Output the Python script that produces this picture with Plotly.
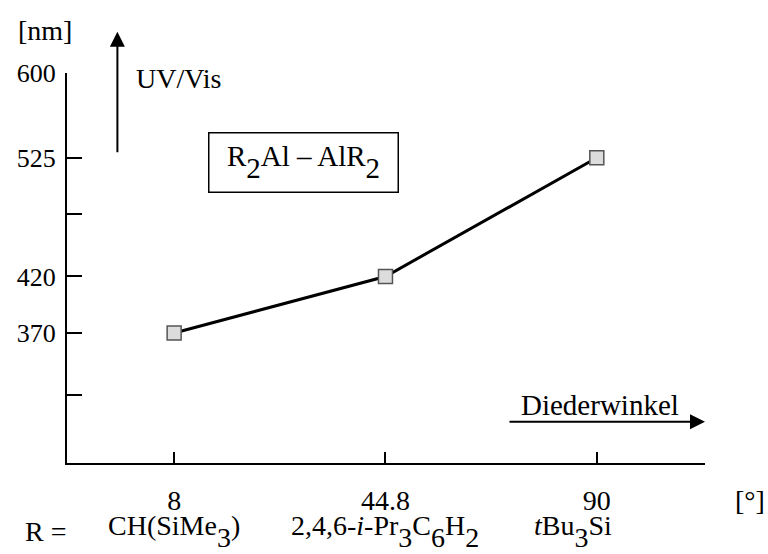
import plotly.graph_objects as go

# Dihedral angle (degrees) and UV/Vis absorption maximum (nm) for R2Al–AlR2
angles = ["8", "44.8", "90"]
wavelength_nm = [370, 420, 525]
y_tick_vals = [600, 525, 475, 420, 370, 315]
y_tick_text = ["600", "525", "", "420", "370", ""]

FONT = "Liberation Serif"


def sub(s):
    # full-size, lowered subscript as used in chemical formulae
    return f"<span style='baseline-shift:-0.42em'>{s}</span>"


substituents = [
    f"CH(SiMe{sub('3')})",
    f"2,4,6-<i>i</i>-Pr{sub('3')}C{sub('6')}H{sub('2')}",
    f"<i>t</i>Bu{sub('3')}Si",
]
formula = f"R{sub('2')}Al – AlR{sub('2')}"

pos = list(range(len(angles)))
row_xshift = [0, 0, -24]

fig = go.Figure()
fig.add_trace(go.Scatter(
    x=pos, y=wavelength_nm, mode="lines+markers",
    line=dict(color="black", width=3),
    marker=dict(symbol="square", size=14, color="#dcdcdc",
                line=dict(color="#555555", width=1.5)),
    showlegend=False, cliponaxis=False,
))

fig.update_layout(
    width=768, height=554,
    margin=dict(l=67, r=63, t=73, b=91),
    paper_bgcolor="white", plot_bgcolor="white",
    font=dict(family=FONT, size=26, color="black"),
    xaxis=dict(
        range=[-0.507, 2.512], tickmode="array",
        tickvals=pos + [2.512], ticktext=angles + [""],
        ticks="inside", ticklen=11, tickwidth=1.5, tickcolor="black",
        showline=True, linecolor="black", linewidth=2,
        showgrid=False, zeroline=False, ticklabelstandoff=11,
        tickfont=dict(family=FONT, size=28, color="black"),
    ),
    yaxis=dict(
        range=[255, 600], tickmode="array",
        tickvals=y_tick_vals, ticktext=y_tick_text,
        ticks="inside", ticklen=15, tickwidth=1.5, tickcolor="black",
        showline=True, linecolor="black", linewidth=2,
        showgrid=False, zeroline=False, ticklabelstandoff=4,
        tickfont=dict(family=FONT, size=26, color="black"),
    ),
)


def label(text, x, y, size=28, xref="paper", **kw):
    return dict(text=text, x=x, y=y, xref=xref, yref="paper",
                xanchor="center", yanchor="middle", showarrow=False,
                font=dict(family=FONT, size=size, color="black"), **kw)


def arrow(x, y, ax, ay):
    return dict(text="", x=x, y=y, xref="paper", yref="paper",
                ax=ax, ay=ay, showarrow=True, arrowhead=2, arrowsize=1.5,
                arrowwidth=2, arrowcolor="black")


annotations = [
    label("[nm]", -0.035, 1.108),
    label("UV/Vis", 0.174, 0.985),
    arrow(0.079, 1.106, 0, 122),
    label(formula, 0.37, 0.77, size=29, width=180, height=50,
          bordercolor="black", borderwidth=1.5, borderpad=4),
    label("Diederwinkel", 0.836, 0.15, size=29),
    arrow(1.0, 0.106, -197, 0),
    label("[°]", 1.07, -0.095),
    label("R =", -0.034, -0.175),
]
for i, s in enumerate(substituents):
    annotations.append(label(s, pos[i], -0.175, xref="x", xshift=row_xshift[i]))
fig.update_layout(annotations=annotations)

fig.write_html("out.html")
